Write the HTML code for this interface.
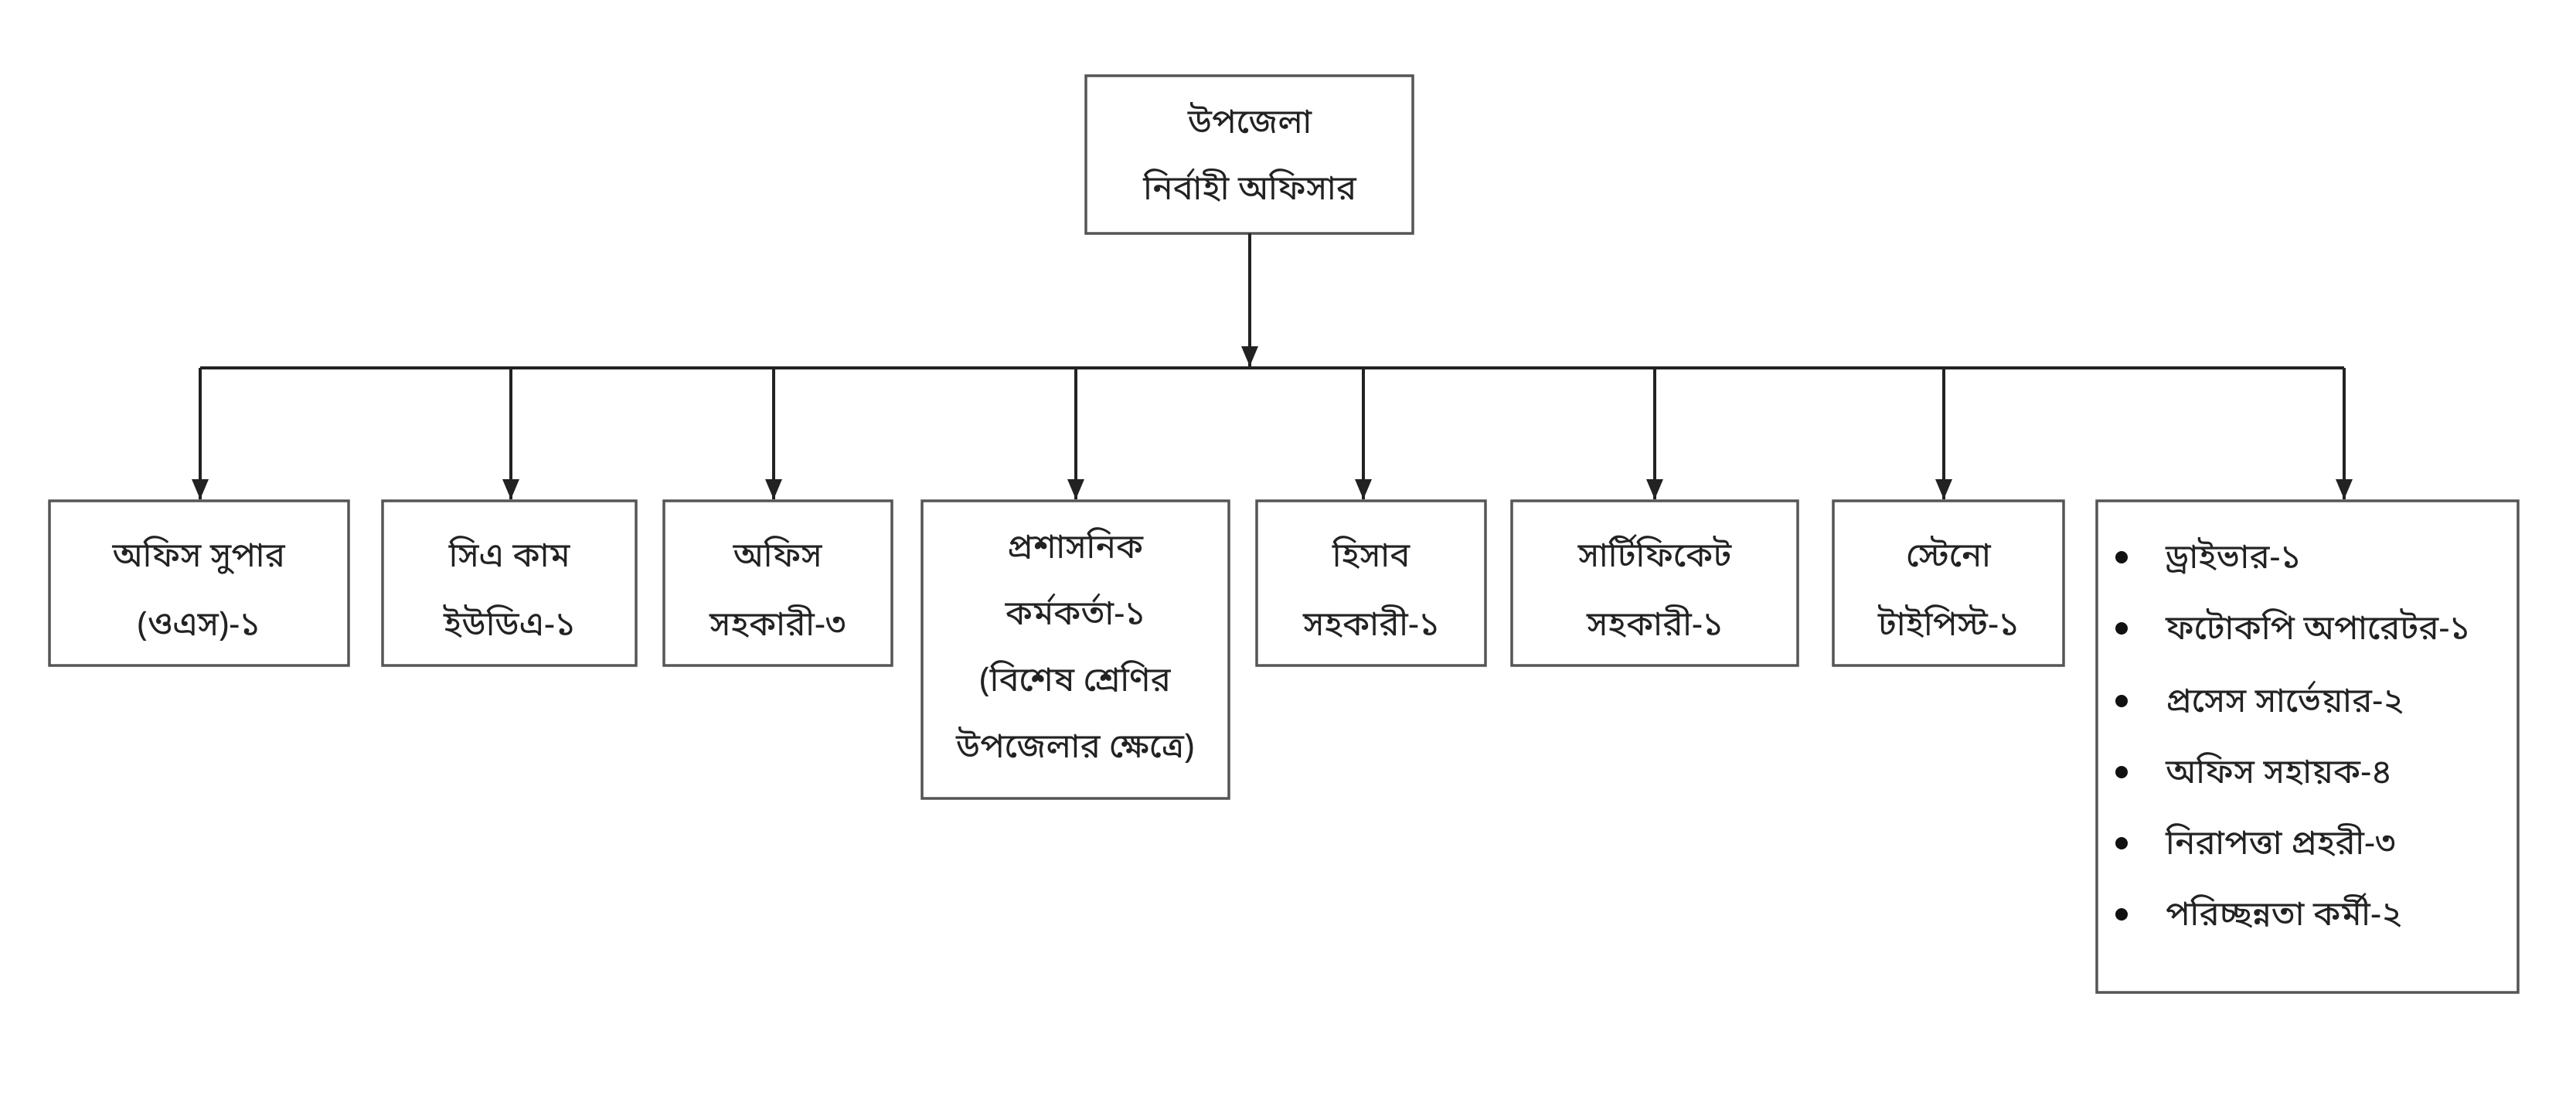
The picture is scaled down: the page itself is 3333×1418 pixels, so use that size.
<!DOCTYPE html>
<html><head><meta charset="utf-8"><style>
html,body{margin:0;padding:0;background:#fff}
svg text{font-family:"Noto Sans Bengali","Lohit Bengali","Liberation Sans",sans-serif;font-size:44px;fill:#222}
</style></head><body>
<svg width="3333" height="1413" viewBox="0 0 3333 1413" xmlns="http://www.w3.org/2000/svg">
<defs><marker id="a" markerWidth="10" markerHeight="10" refX="5" refY="9" orient="auto" markerUnits="userSpaceOnUse" viewBox="0 0 10 10"><path d="M0,0 L10,0 L5,10 Z" fill="#222"/></marker>
<marker id="b" markerWidth="24" markerHeight="26" refX="12" refY="26" orient="0" markerUnits="userSpaceOnUse"><path d="M1,0 L23,0 L12,26 Z" fill="#222"/></marker></defs>
<g fill="#fff" stroke="#555" stroke-width="3.5">
<rect x="1405" y="98" width="423" height="204"/>
<rect x="64" y="648" width="387" height="213"/>
<rect x="495" y="648" width="328" height="213"/>
<rect x="859" y="648" width="295" height="213"/>
<rect x="1193" y="648" width="397" height="385"/>
<rect x="1626" y="648" width="296" height="213"/>
<rect x="1956" y="648" width="370" height="213"/>
<rect x="2372" y="648" width="298" height="213"/>
<rect x="2713" y="648" width="545" height="636"/>
</g>
<g stroke="#222" stroke-width="4" fill="none">
<line x1="1617" y1="302" x2="1617" y2="474" marker-end="url(#b)"/>
<line x1="259" y1="476" x2="3033" y2="476"/>
<line x1="259" y1="476" x2="259" y2="646" marker-end="url(#b)"/>
<line x1="661" y1="476" x2="661" y2="646" marker-end="url(#b)"/>
<line x1="1001" y1="476" x2="1001" y2="646" marker-end="url(#b)"/>
<line x1="1392" y1="476" x2="1392" y2="646" marker-end="url(#b)"/>
<line x1="1764" y1="476" x2="1764" y2="646" marker-end="url(#b)"/>
<line x1="2141" y1="476" x2="2141" y2="646" marker-end="url(#b)"/>
<line x1="2515" y1="476" x2="2515" y2="646" marker-end="url(#b)"/>
<line x1="3033" y1="476" x2="3033" y2="646" marker-end="url(#b)"/>
</g>
<g text-anchor="middle">
<text x="1617" y="172">উপজেলা</text><text x="1617" y="258">নির্বাহী অফিসার</text>
<text x="257" y="733">অফিস সুপার</text><text x="257" y="822">(ওএস)-১</text>
<text x="659" y="733">সিএ কাম</text><text x="659" y="822">ইউডিএ-১</text>
<text x="1006" y="733">অফিস</text><text x="1006" y="822">সহকারী-৩</text>
<text x="1391" y="722">প্রশাসনিক</text><text x="1391" y="808">কর্মকর্তা-১</text><text x="1391" y="894">(বিশেষ শ্রেণির</text><text x="1391" y="980">উপজেলার ক্ষেত্রে)</text>
<text x="1774" y="733">হিসাব</text><text x="1774" y="822">সহকারী-১</text>
<text x="2141" y="733">সার্টিফিকেট</text><text x="2141" y="822">সহকারী-১</text>
<text x="2521" y="733">স্টেনো</text><text x="2521" y="822">টাইপিস্ট-১</text>
</g>
<g fill="#111">
<circle cx="2745" cy="721" r="8"/><circle cx="2745" cy="813" r="8"/><circle cx="2745" cy="907" r="8"/>
<circle cx="2745" cy="999" r="8"/><circle cx="2745" cy="1091" r="8"/><circle cx="2745" cy="1183" r="8"/>
</g>
<g>
<text x="2802" y="735">ড্রাইভার-১</text>
<text x="2802" y="827">ফটোকপি অপারেটর-১</text>
<text x="2802" y="921">প্রসেস সার্ভেয়ার-২</text>
<text x="2802" y="1013">অফিস সহায়ক-৪</text>
<text x="2802" y="1105">নিরাপত্তা প্রহরী-৩</text>
<text x="2802" y="1197">পরিচ্ছন্নতা কর্মী-২</text>
</g>
</svg>
</body></html>
